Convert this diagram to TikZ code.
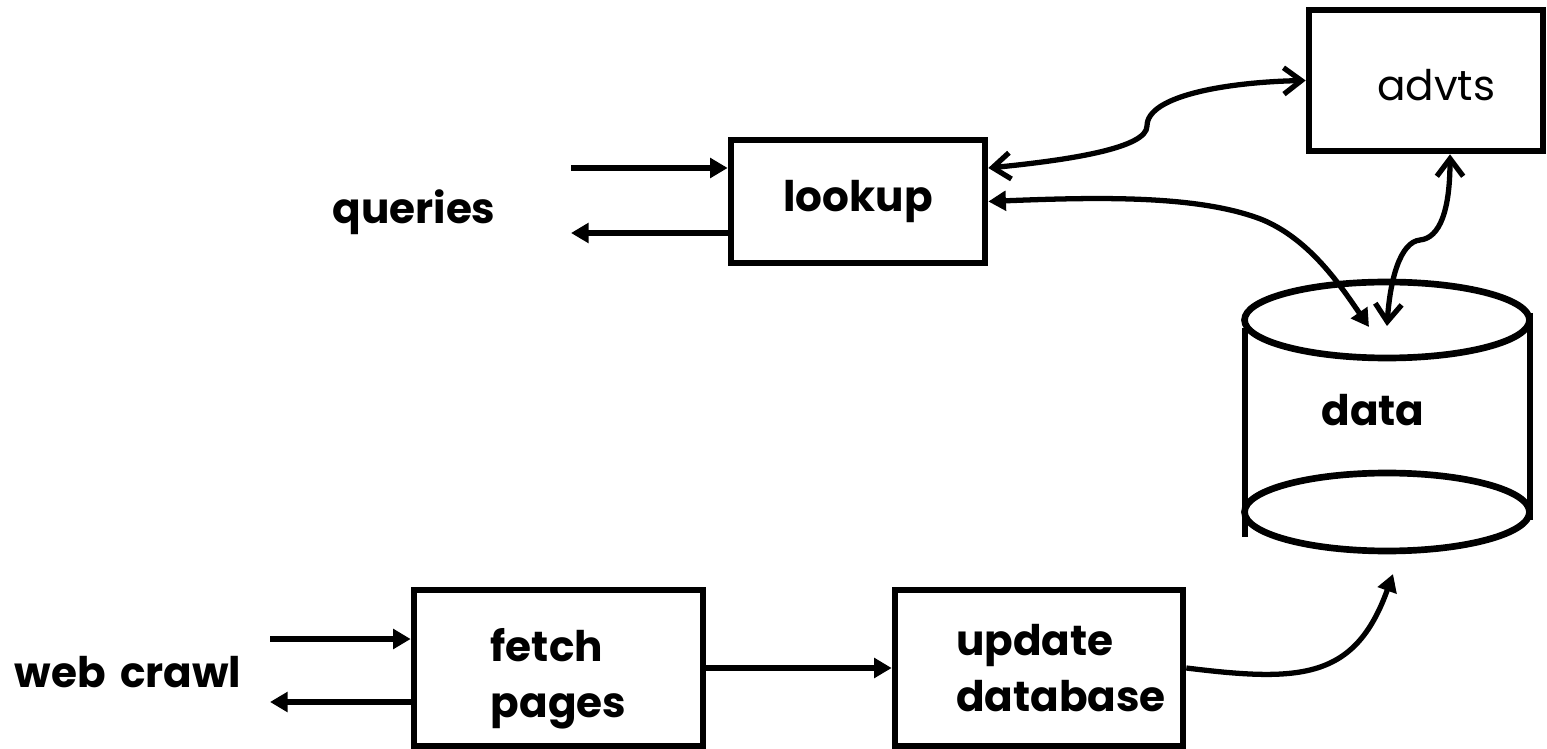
\documentclass[tikz,border=0pt]{standalone}
\usepackage{fontspec}
\setmainfont{Poppins}
\usetikzlibrary{arrows.meta,positioning,calc}

\tikzset{
  box/.style={draw, line width=3.8pt, inner sep=0pt},
  lbl/.style={font=\bfseries\fontsize{24}{32}\selectfont, align=left},
  flow/.style={line width=3pt, -{Triangle[length=10pt,width=11pt]}},
  both/.style={line width=3pt, {Triangle[length=10pt,width=11pt]}-{Triangle[length=10pt,width=11pt]}},
  link/.style={line width=3pt, line cap=round,
    {Straight Barb[length=10pt,width=15pt]}-{Straight Barb[length=10pt,width=15pt]}},
  drum/.style={line width=3.8pt}
}

\begin{document}
\begin{tikzpicture}[x=0.02cm, y=-0.02cm]
\useasboundingbox (0,0) rectangle (1547,749);

% Boxes
\node[box, lbl, minimum width=5.08cm, minimum height=2.46cm] (lookup) at (858,201.5) {lookup};
\node[box, minimum width=4.68cm, minimum height=2.82cm,
      label={[font=\fontsize{24}{28}\selectfont, xshift=0.2cm, yshift=-0.1cm]center:advts}] (advts) at (1426,80.5) {};
\node[box, minimum width=5.78cm, minimum height=3.12cm,
      label={[lbl, yshift=-0.22cm]center:fetch\\pages}] (fetch) at (558.5,668) {};
\node[box, minimum width=5.76cm, minimum height=3.12cm,
      label={[lbl, xshift=0.44cm]center:update\\database}] (update) at (1039,668) {};

% Outside labels
\node[lbl] (queries) at (414,212) {queries};
\node[lbl] (crawl) at (128,672) {web\,\,crawl};

% Data store
\draw[drum] (1387,320) ellipse [x radius=2.85cm, y radius=0.76cm];
\draw[drum] (1387,512) ellipse [x radius=2.85cm, y radius=0.78cm];
\draw[drum] (1245,328) -- (1245,537);
\draw[drum] (1530,313) -- (1530,520);
\node[lbl] (data) at (1373,410) {data};

% Free ends
\coordinate (qin) at (571,168);
\coordinate (qout) at (571,233);
\coordinate (cin) at (270,639);
\coordinate (cout) at (270,702);
\coordinate (dtop1) at (1369,327);
\coordinate (dtop2) at (1387,326);
\coordinate (dbot) at (1393,574);

% Query and crawl arrows
\draw[flow] (qin) -- (qin -| lookup.west);
\draw[flow] (qout -| lookup.west) -- (qout);
\draw[flow] (cin) -- (cin -| fetch.west);
\draw[flow] (cout -| fetch.west) -- (cout);
\draw[flow] (fetch) -- (update);

% Curved links
\draw[link] (lookup.east |- qin) .. controls (1070,160) and (1147,148) .. (1147,126)
    .. controls (1147,95) and (1230,82) .. (advts.west);
\draw[both] (lookup.east) .. controls (1100,197) and (1200,195) .. (1263,220)
    .. controls (1310,240) and (1340,285) .. (dtop1);
\draw[link] ([xshift=0.48cm]advts.south) .. controls (1450,210) and (1440,238) .. (1420,240)
    .. controls (1400,242) and (1390,280) .. (dtop2);
\draw[flow] (update.east) .. controls (1300,682) and (1355,680) .. (dbot);
\end{tikzpicture}
\end{document}
